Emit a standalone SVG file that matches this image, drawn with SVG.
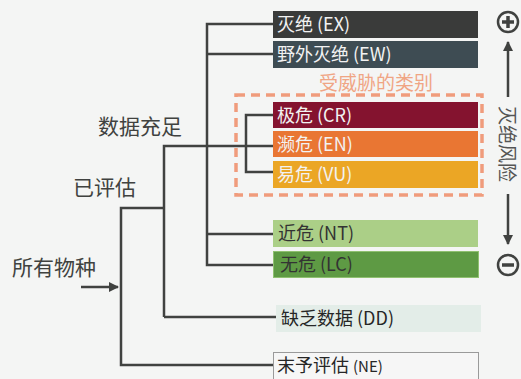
<svg xmlns="http://www.w3.org/2000/svg" width="521" height="379" viewBox="0 0 521 379">
<defs>
<style>
.ln{fill:none;stroke:#404240;stroke-width:2.5}
.lbl{font-family:"Noto Sans CJK SC","Microsoft YaHei",sans-serif;font-size:18px}
.big{font-family:"Noto Sans CJK SC","Microsoft YaHei",sans-serif;font-size:21px;fill:#404240}
.lt{fill:#f2f2f2}
.dk{fill:#333}
</style>
<marker id="ah" viewBox="0 0 10 10" refX="9" refY="5" markerWidth="4" markerHeight="4" orient="auto-start-reverse">
<path d="M0,0 L10,5 L0,10 z" fill="#404240"/>
</marker>
</defs>
<rect width="521" height="379" fill="#f4f5f4"/>

<g id="connectors">
<path class="ln" d="M273,24 H207 V265 H273"/>
<path class="ln" d="M207,54 H273"/>
<path class="ln" d="M207,234 H273"/>
<path class="ln" d="M273,115 H246 V172 H273"/>
<path class="ln" d="M164,317 V146 H273"/>
<path class="ln" d="M164,317 H276"/>
<path class="ln" d="M164,208 H121 V365 H273"/>
<path class="ln" d="M81,287 H118" stroke-width="3" marker-end="url(#ah)"/>
</g>

<g id="threatened">
<rect x="236" y="95" width="246" height="100" fill="none" stroke="#f09c7c" stroke-width="3.5" stroke-dasharray="9,6"/>
<text x="376" y="90" text-anchor="middle" font-family="Noto Sans CJK SC, sans-serif" font-size="19" fill="#f0a584">受威胁的类别</text>
</g>

<g id="EX"><rect x="273" y="11" width="205" height="27" fill="#3a3b3a"/><text class="lbl lt" x="277" y="31">灭绝 (EX)</text></g>
<g id="EW"><rect x="273" y="41" width="205" height="27" fill="#3e4c53"/><text class="lbl lt" x="277" y="61">野外灭绝 (EW)</text></g>
<g id="CR"><rect x="273" y="102" width="205" height="26" fill="#84132f"/><text class="lbl lt" x="277" y="122">极危 (CR)</text></g>
<g id="EN"><rect x="273" y="131" width="205" height="26" fill="#e97633"/><text class="lbl lt" x="277" y="151">濒危 (EN)</text></g>
<g id="VU"><rect x="273" y="161" width="205" height="27" fill="#eba625"/><text class="lbl lt" x="277" y="181">易危 (VU)</text></g>
<g id="NT"><rect x="273" y="220" width="205" height="27" fill="#abcf87"/><text class="lbl dk" x="278" y="240">近危 (NT)</text></g>
<g id="LC"><rect x="273.5" y="251.5" width="205" height="26" fill="#5e9a44" stroke="#8fc070" stroke-width="1"/><text class="lbl dk" x="280" y="271">无危 (LC)</text></g>
<g id="DD"><rect x="276" y="305" width="205" height="27" fill="#e3ede8"/><text class="lbl" fill="#262626" x="281" y="325">缺乏数据 (DD)</text></g>
<g id="NE"><rect x="273.5" y="352.5" width="205" height="30" fill="#f6f6f6" stroke="#9a9a9a" stroke-width="1"/><text class="lbl" fill="#262626" x="277" y="372">末予评估 <tspan font-size="15">(NE)</tspan></text></g>

<g id="adequate"><text class="big" x="98" y="134">数据充足</text></g>
<g id="evaluated"><text class="big" x="73" y="195">已评估</text></g>
<g id="all"><text class="big" x="12" y="275">所有物种</text></g>

<g id="risk">
<circle cx="508" cy="22" r="10" fill="none" stroke="#404240" stroke-width="2.5"/>
<path d="M502,22 H514 M508,16 V28" stroke="#404240" stroke-width="3.5"/>
<path d="M508,97 V42" class="ln" stroke-width="3" marker-end="url(#ah)"/>
<text transform="translate(500,144) rotate(90)" text-anchor="middle" font-family="Noto Sans CJK SC, sans-serif" font-size="19" fill="#555">灭绝风险</text>
<path d="M508,194 V244" class="ln" stroke-width="3" marker-end="url(#ah)"/>
<circle cx="508" cy="265" r="10" fill="none" stroke="#404240" stroke-width="2.5"/>
<path d="M502,265 H514" stroke="#404240" stroke-width="3.5"/>
</g>
</svg>
